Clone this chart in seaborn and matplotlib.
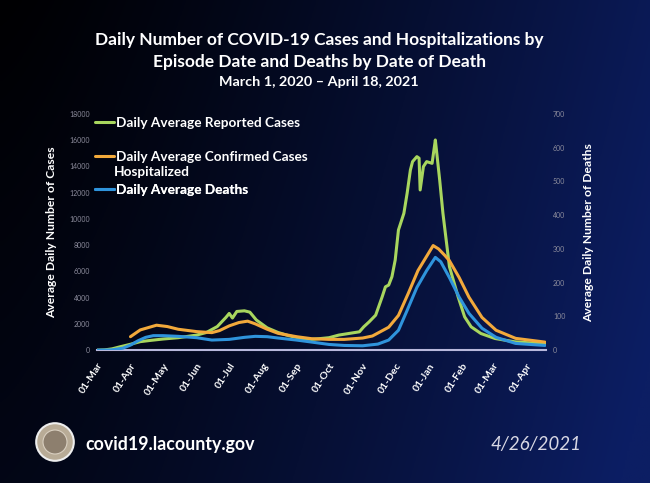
import numpy as np
import pandas as pd
import matplotlib
matplotlib.use('Agg')
import matplotlib.pyplot as plt
import matplotlib.dates as mdates
from matplotlib.lines import Line2D
from matplotlib.patches import Circle
import seaborn as sns

# daily average reported cases (left axis)
case_dates = ['2020-03-01', '2020-03-08', '2020-03-15', '2020-03-22', '2020-04-01', '2020-04-10',
              '2020-04-20', '2020-05-01', '2020-05-15', '2020-06-01', '2020-06-10', '2020-06-20',
              '2020-06-28', '2020-07-01', '2020-07-04', '2020-07-08', '2020-07-15', '2020-07-20',
              '2020-07-26', '2020-08-05', '2020-08-15', '2020-08-25', '2020-09-05', '2020-09-15',
              '2020-10-01', '2020-10-10', '2020-10-29', '2020-11-02', '2020-11-07', '2020-11-13',
              '2020-11-19', '2020-11-22', '2020-11-25', '2020-11-28', '2020-12-01', '2020-12-04',
              '2020-12-09', '2020-12-12', '2020-12-15', '2020-12-17', '2020-12-21', '2020-12-23',
              '2020-12-24', '2020-12-27', '2020-12-30', '2021-01-04', '2021-01-07', '2021-01-08',
              '2021-01-11', '2021-01-14', '2021-01-17', '2021-01-20', '2021-01-28', '2021-02-03',
              '2021-02-09', '2021-02-18', '2021-03-03', '2021-03-21', '2021-04-18']
cases = [0, 20, 100, 250, 450, 650,
         750, 850, 950, 1150, 1350, 1800,
         2500, 2800, 2450, 2950, 3000, 2900,
         2300, 1700, 1350, 1100, 900, 820,
         950, 1150, 1400, 1780, 2160, 2670,
         4070, 4830, 4960, 5600, 6870, 9160,
         10430, 11960, 13730, 14370, 14750, 14630,
         12210, 13990, 14370, 14240, 16020, 15260,
         12970, 10430, 8390, 6360, 4070, 2540,
         1780, 1270, 890, 640, 480]

# daily average confirmed cases hospitalized (right axis)
hosp_dates = ['2020-04-01', '2020-04-10', '2020-04-25', '2020-05-05', '2020-05-15', '2020-06-01',
              '2020-06-15', '2020-06-22', '2020-07-01', '2020-07-10', '2020-07-18', '2020-07-25',
              '2020-08-05', '2020-08-15', '2020-09-01', '2020-09-15', '2020-10-01', '2020-10-15',
              '2020-11-01', '2020-11-10', '2020-11-25', '2020-12-04', '2020-12-13', '2020-12-22',
              '2021-01-01', '2021-01-05', '2021-01-10', '2021-01-16', '2021-01-20', '2021-01-29',
              '2021-02-07', '2021-02-19', '2021-03-04', '2021-03-22', '2021-04-18']
hosp = [40, 60, 74, 70, 62, 55,
        52, 58, 72, 82, 86, 78,
        62, 50, 40, 34, 32, 32,
        36, 42, 68, 103, 168, 236,
        289, 310, 300, 280, 265, 215,
        157, 97, 59, 35, 24]

# daily average deaths (right axis)
death_dates = ['2020-03-01', '2020-03-15', '2020-03-25', '2020-04-01', '2020-04-08', '2020-04-15',
               '2020-04-22', '2020-05-01', '2020-05-15', '2020-06-01', '2020-06-15', '2020-07-01',
               '2020-07-15', '2020-07-25', '2020-08-05', '2020-08-15', '2020-09-01', '2020-09-15',
               '2020-10-01', '2020-10-15', '2020-11-01', '2020-11-15', '2020-11-25', '2020-12-04',
               '2020-12-12', '2020-12-21', '2020-12-30', '2021-01-07', '2021-01-12', '2021-01-20',
               '2021-01-29', '2021-02-07', '2021-02-19', '2021-03-04', '2021-03-22', '2021-04-18']
deaths = [0, 1, 6, 15, 28, 38,
          43, 43, 41, 37, 30, 32,
          38, 41, 40, 36, 30, 24,
          17, 14, 13, 18, 30, 59,
          118, 186, 236, 275, 262, 215,
          157, 109, 65, 38, 20, 14]

labels = ['Daily Average Reported Cases', 'Daily Average Confirmed Cases', 'Daily Average Deaths']
colors = ['#a8d65e', '#f2a93b', '#2f94dc']

df_cases = pd.DataFrame({'date': pd.to_datetime(case_dates), 'value': cases})
df_hosp = pd.DataFrame({'date': pd.to_datetime(hosp_dates), 'value': hosp})
df_deaths = pd.DataFrame({'date': pd.to_datetime(death_dates), 'value': deaths})

sns.set_style('white')
plt.rcParams['font.family'] = ['Lato', 'DejaVu Sans']

fig = plt.figure(figsize=(6.5, 4.83), dpi=100)

# dark gradient background
bg = fig.add_axes([0, 0, 1, 1], zorder=-10)
gx, gy = np.meshgrid(np.linspace(0, 1, 300), np.linspace(0, 1, 220))
t = np.clip(0.85 * gx ** 1.3 + 0.2 * gy, 0, 1)[..., None]
c0 = np.array([0, 0, 2]) / 255
c1 = np.array([12, 30, 100]) / 255
bg.imshow(c0 + (c1 - c0) * t, aspect='auto', extent=[0, 1, 0, 1], origin='upper')
bg.axis('off')

ax = fig.add_axes([0.149, 0.275, 0.691, 0.489])
ax.set_facecolor('none')
ax2 = ax.twinx()

sns.lineplot(data=df_cases, x='date', y='value', ax=ax, color=colors[0], linewidth=2.2)
sns.lineplot(data=df_hosp, x='date', y='value', ax=ax2, color=colors[1], linewidth=2.2)
sns.lineplot(data=df_deaths, x='date', y='value', ax=ax2, color=colors[2], linewidth=2.2)

ax.set_xlim(pd.Timestamp('2020-03-01'), pd.Timestamp('2021-04-19'))
ax.set_ylim(0, 18000)
ax2.set_ylim(0, 700)
ax.set_yticks(range(0, 18001, 2000))
ax2.set_yticks(range(0, 701, 100))

ax.xaxis.set_major_locator(mdates.MonthLocator(bymonthday=1))
ax.xaxis.set_major_formatter(mdates.DateFormatter('%d-%b'))
for lbl in ax.get_xticklabels():
    lbl.set_rotation(57)
    lbl.set_ha('right')
    lbl.set_rotation_mode('anchor')
ax.tick_params(axis='x', colors='white', labelsize=7.5, length=0, pad=8)
for lbl in ax.get_xticklabels():
    lbl.set_fontweight('bold')
ax.tick_params(axis='y', colors='#8c8c9c', labelsize=5, length=0, pad=5)
ax2.tick_params(axis='y', colors='#8c8c9c', labelsize=5, length=0, pad=5)

for a in (ax, ax2):
    for side in ('top', 'left', 'right'):
        a.spines[side].set_visible(False)
    a.spines['bottom'].set_color('#b8b8dc')
    a.spines['bottom'].set_linewidth(1.5)
    a.grid(False)
ax2.spines['bottom'].set_visible(False)

ax.set_xlabel('')
ax.set_ylabel('Average Daily Number of Cases', color='white', fontweight='bold', fontsize=8.7)
ax.yaxis.set_label_coords(-0.089, 0.5)
ax2.set_ylabel('Average Daily Number of Deaths', color='white', fontweight='bold', fontsize=8.7)
ax2.yaxis.set_label_coords(1.082, 0.5)

# legend entries
key_y = [0.962, 0.818, 0.678]
for lab, col, yy in zip(labels, colors, key_y):
    leg = ax2.legend([Line2D([], [], color=col, lw=2.2)], [lab], loc='center left',
                     bbox_to_anchor=(-0.004, yy), frameon=False, handlelength=1.4,
                     handletextpad=0.12, borderpad=0, borderaxespad=0,
                     prop={'weight': 'bold', 'size': 9.8}, labelcolor='white')
    ax2.add_artist(leg)
ax2.text(0.038, 0.754, 'Hospitalized', transform=ax2.transAxes, color='white',
         fontweight='bold', fontsize=9.8, va='center', ha='left')

# title
fig.text(0.491, 0.917, 'Daily Number of COVID-19 Cases and Hospitalizations by',
         color='white', fontweight='bold', fontsize=12.5, ha='center', va='center')
fig.text(0.491, 0.872, 'Episode Date and Deaths by Date of Death',
         color='white', fontweight='bold', fontsize=12.5, ha='center', va='center')
fig.text(0.491, 0.830, 'March 1, 2020 \u2013 April 18, 2021',
         color='white', fontweight='bold', fontsize=10.4, ha='center', va='center')

# footer
fig.text(0.131, 0.079, 'covid19.lacounty.gov', color='white', fontweight='bold',
         fontsize=12.8, ha='left', va='center')
fig.text(0.754, 0.079, '4/26/2021', color='#d8d8e4', fontstyle='italic',
         fontsize=13.5, ha='left', va='center')

seal = fig.add_axes([35 / 650, 1 - 462 / 483, 40 / 650, 40 / 483])
seal.add_patch(Circle((0.5, 0.5), 0.47, fc='#b8ab96', ec='#eeeeee', lw=1.5))
seal.add_patch(Circle((0.5, 0.5), 0.3, fc='#8d7f6e', ec='#d9cfc0', lw=0.8))
seal.set_xlim(0, 1)
seal.set_ylim(0, 1)
seal.axis('off')

fig.savefig('out.png', dpi=100, facecolor='black')
